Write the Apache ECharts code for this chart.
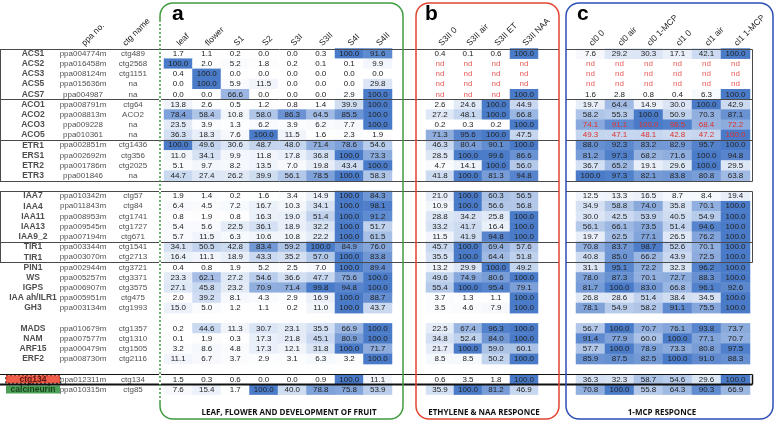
<!DOCTYPE html>
<html><head><meta charset="utf-8">
<script src="https://cdn.jsdelivr.net/npm/echarts@6/dist/echarts.min.js"></script>
<style>html,body{margin:0;padding:0;background:#fff}#c{width:778px;height:426px}</style>
</head><body><div id="c"></div>
<script>
// ---------------- DATA ----------------
const rowGenes = ['ACS1','ACS2','ACS3','ACS5','ACS7','ACO1','ACO2','ACO3','ACO5','ETR1','ERS1','ETR2','ETR3','',
  'IAA7','IAA4','IAA11','IAA13','IAA9_2','TIR1','TIR1','PIN1','WS','IGPS','IAA ah/ILR1','GH3','',
  'MADS','NAM','ARF15','ERF2','','ctg134','calcineurin'];
const rowPpa = ['ppa004774m','ppa016458m','ppa008124m','ppa015636m','ppa004987','ppa008791m','ppa008813m','ppa009228','ppa010361','ppa002851m','ppa002692m','ppa001786m','ppa001846','',
  'ppa010342m','ppa011843m','ppa008953m','ppa009545m','ppa007194m','ppa003344m','ppa003070m','ppa002944m','ppa005257m','ppa006907m','ppa005951m','ppa003134m','',
  'ppa010679m','ppa007577m','ppa000479m','ppa008730m','','ppa012311m','ppa010315m'];
const rowCtg = ['ctg489','ctg2568','ctg1151','na','na','ctg64','ACO2','na','na','ctg1436','ctg356','ctg2025','na','',
  'ctg57','ctg84','ctg1741','ctg1727','ctg671','ctg1541','ctg2713','ctg3721','ctg3371','ctg3575','ctg475','ctg1993','',
  'ctg1357','ctg1310','ctg1505','ctg2116','','ctg134','ctg85'];

const nameHeaders = ['', 'ppa no.', 'ctg name'];
const colsA = ['leaf','flower','S1','S2','S3I','S3II','S4I','S4II'];
const colsB = ['S3II 0','S3II air','S3II ET','S3II NAA'];
const colsC = ['cl0 0','cl0 air','cl0 1-MCP','cl1 0','cl1 air','cl1 1-MCP'];

const valsA = [
  [1.7,1.1,0.2,0.0,0.0,0.3,100.0,91.6],
  [100.0,2.0,5.2,1.8,0.2,0.1,0.1,9.9],
  [0.4,100.0,0.0,0.0,0.0,0.0,0.0,0.0],
  [0.0,100.0,5.9,11.5,0.0,0.0,0.0,29.8],
  [0.0,0.0,66.6,0.0,0.0,0.0,2.9,100.0],
  [13.8,2.6,0.5,1.2,0.8,1.4,39.9,100.0],
  [78.4,58.4,10.8,58.0,86.3,64.5,85.5,100.0],
  [23.5,3.9,1.3,6.2,3.9,6.2,7.7,100.0],
  [36.3,18.3,7.6,100.0,11.5,1.6,2.3,1.9],
  [100.0,49.6,30.6,48.7,48.0,71.4,78.6,54.6],
  [11.0,34.1,9.9,11.8,17.8,36.8,100.0,73.3],
  [5.1,9.7,8.2,13.5,7.0,19.8,43.4,100.0],
  [44.7,27.4,26.2,39.9,56.1,78.5,100.0,58.3],
  null,
  [1.9,1.4,0.2,1.6,3.4,14.9,100.0,84.3],
  [6.4,4.5,7.2,16.7,10.3,34.1,100.0,98.1],
  [0.8,1.9,0.8,16.3,19.0,51.4,100.0,91.2],
  [5.4,5.6,22.5,36.1,18.9,32.2,100.0,51.7],
  [5.7,11.5,6.3,10.6,10.8,22.2,100.0,61.5],
  [34.1,50.5,42.8,83.4,59.2,100.0,84.9,76.0],
  [16.4,11.1,18.9,43.3,35.2,57.0,100.0,83.8],
  [0.4,0.8,1.9,5.2,2.5,7.0,100.0,89.4],
  [23.3,62.1,27.2,54.6,36.6,47.7,75.6,100.0],
  [27.1,45.8,23.2,70.9,71.4,99.8,94.8,100.0],
  [2.0,39.2,8.1,4.3,2.9,16.9,100.0,88.7],
  [15.0,5.0,1.2,1.1,0.2,11.0,100.0,43.7],
  null,
  [0.2,44.6,11.3,30.7,23.1,35.5,66.9,100.0],
  [0.1,1.9,0.3,17.3,21.8,45.1,80.9,100.0],
  [3.2,8.6,4.8,17.3,12.1,31.8,100.0,71.7],
  [11.1,6.7,3.7,2.9,3.1,6.3,3.2,100.0],
  null,
  [1.5,0.3,0.6,0.0,0.0,0.9,100.0,11.1],
  [7.6,15.4,1.7,100.0,40.0,78.8,75.8,53.9]
];
const valsB = [
  [0.4,0.1,0.6,100.0],
  ['nd','nd','nd','nd'],
  ['nd','nd','nd','nd'],
  ['nd','nd','nd','nd'],
  ['nd','nd','nd',100.0],
  [2.6,24.6,100.0,44.9],
  [27.2,48.1,100.0,66.8],
  [0.2,0.3,0.2,100.0],
  [71.3,95.6,100.0,47.5],
  [46.3,80.4,90.1,100.0],
  [28.5,100.0,99.6,86.6],
  [4.7,14.1,100.0,56.0],
  [41.8,100.0,81.3,94.8],
  null,
  [21.0,100.0,60.3,56.5],
  [10.9,100.0,56.6,56.8],
  [28.8,34.2,25.8,100.0],
  [33.2,41.7,16.4,100.0],
  [11.5,41.9,94.8,100.0],
  [45.7,100.0,69.4,57.6],
  [35.5,100.0,64.4,51.8],
  [13.2,29.9,100.0,49.2],
  [49.6,74.9,80.6,100.0],
  [55.4,100.0,95.4,79.1],
  [3.7,1.3,1.1,100.0],
  [3.5,4.6,7.9,100.0],
  null,
  [22.5,67.4,96.3,100.0],
  [34.8,52.4,84.0,100.0],
  [21.7,100.0,59.0,60.1],
  [8.5,8.5,50.2,100.0],
  null,
  [0.6,3.5,1.8,100.0],
  [35.9,100.0,81.2,46.9]
];
const valsC = [
  [7.6,29.2,30.3,17.1,42.1,100.0],
  ['nd','nd','nd','nd','nd','nd'],
  ['nd','nd','nd','nd','nd','nd'],
  ['nd','nd','nd','nd','nd','nd'],
  [1.6,2.8,0.8,0.4,6.3,100.0],
  [19.7,64.4,14.9,30.0,100.0,42.9],
  [58.2,55.3,100.0,50.9,70.3,87.1],
  [74.1,91.1,100.0,96.5,68.4,72.2],
  [49.3,47.1,48.1,42.8,47.2,100.0],
  [88.0,92.3,83.2,82.9,95.7,100.0],
  [81.2,97.3,68.2,71.6,100.0,94.8],
  [36.7,65.2,19.1,29.6,100.0,29.5],
  [100.0,97.3,82.1,83.8,80.8,63.8],
  null,
  [12.5,13.3,16.5,8.7,8.4,19.4],
  [34.9,58.8,74.0,35.8,70.1,100.0],
  [30.0,42.5,53.9,40.5,54.9,100.0],
  [56.1,66.1,73.5,51.4,94.6,100.0],
  [19.7,62.5,77.1,26.5,76.2,100.0],
  [70.8,83.7,98.7,52.6,70.1,100.0],
  [40.8,85.0,66.2,43.9,72.5,100.0],
  [31.1,95.1,72.2,32.3,96.2,100.0],
  [78.0,87.3,70.1,72.7,88.3,100.0],
  [81.7,100.0,83.0,66.8,96.1,92.6],
  [26.8,28.6,51.4,38.4,34.5,100.0],
  [78.1,54.9,58.2,91.1,75.5,100.0],
  null,
  [56.7,100.0,70.7,76.1,93.8,73.7],
  [91.4,77.9,60.0,100.0,77.1,70.7],
  [57.7,100.0,78.9,73.3,80.8,97.5],
  [85.9,87.5,82.5,100.0,91.0,88.3],
  null,
  [36.3,32.3,58.7,54.6,29.6,100.0],
  [70.8,100.0,55.8,64.3,90.3,66.9]
];
// rows of panel c printed in red in the source
const redTextRowsC = ['ACO3','ACO5'];

const panelTitles = ['LEAF, FLOWER AND DEVELOPMENT OF FRUIT', 'ETHYLENE & NAA RESPONCE', '1-MCP RESPONCE'];
const panelLetters = ['a','b','c'];

// ---------------- LAYOUT ----------------
const FONT = '"Liberation Sans", Arial, sans-serif';
const TOP = 48.5, ROWH = 10.18, NROWS = rowGenes.length;
const H = ROWH * NROWS;
const gridDefs = [
  {left: 8, width: 150},      // names
  {left: 164, width: 228},    // a
  {left: 426, width: 112},    // b
  {left: 576, width: 174}     // c
];
const slots = rowGenes.map((_, i) => String(i));
const headerSets = [nameHeaders, colsA, colsB, colsC];

const RED = '#e0302a';
function buildHeat(vals, redRows) {
  const heat = [], nd = [];
  vals.forEach((row, r) => {
    if (!row) return;
    row.forEach((v, c) => {
      if (v === 'nd') nd.push([c, r]);
      else {
        const item = {value: [c, r, v]};
        if (redRows && redRows.includes(rowGenes[r])) item.label = {color: RED};
        heat.push(item);
      }
    });
  });
  return {heat, nd};
}
const hA = buildHeat(valsA), hB = buildHeat(valsB), hC = buildHeat(valsC, redTextRowsC);

const nameData = [];
rowGenes.forEach((g, r) => {
  if (!g) return;
  const gi = {value: [0, r], name: g, label: {fontWeight: 'bold', fontSize: 8.5}};
  if (g === 'ctg134') gi.label = {fontWeight: 'bold', fontSize: 8.5, backgroundColor: '#e8341c', color: '#3a0800', width: 54, height: 8, lineHeight: 9, align: 'center', borderColor: '#222', borderType: 'dotted', borderWidth: 1};
  if (g === 'calcineurin') gi.label = {fontWeight: 'bold', fontSize: 8.5, backgroundColor: '#1f8a30', color: '#0c2a0c', width: 54, height: 8, lineHeight: 9, align: 'center'};
  nameData.push(gi);
  nameData.push({value: [1, r], name: rowPpa[r]});
  nameData.push({value: [2, r], name: rowCtg[r]});
});

const xAxes = headerSets.map((cols, i) => ({
  gridIndex: i, type: 'category', data: cols, position: 'top',
  axisLine: {show: false}, axisTick: {show: false}, splitLine: {show: false},
  axisLabel: {show: false}
}));
const yAxes = gridDefs.map((g, i) => ({
  gridIndex: i, type: 'category', data: slots, inverse: true, show: false
}));

const labelBase = {show: true, fontSize: 8, color: '#222', fontFamily: FONT,
  formatter: p => (typeof p.value[2] === 'number' ? p.value[2].toFixed(1) : '')};
const heatSeries = [hA, hB, hC].map((h, i) => ({
  type: 'heatmap', xAxisIndex: i + 1, yAxisIndex: i + 1, data: h.heat,
  label: labelBase, itemStyle: {borderWidth: 0}, emphasis: {disabled: true}, z: 2
}));
const ndSeries = [hA, hB, hC].map((h, i) => ({
  type: 'scatter', xAxisIndex: i + 1, yAxisIndex: i + 1, data: h.nd, symbolSize: 1,
  itemStyle: {color: 'rgba(0,0,0,0)'}, silent: true, z: 3,
  label: {show: true, position: 'inside', formatter: 'nd', fontSize: 8, color: RED, fontFamily: FONT}
}));
const nameSeries = {
  type: 'scatter', xAxisIndex: 0, yAxisIndex: 0, data: nameData, symbolSize: 1,
  itemStyle: {color: 'rgba(0,0,0,0)'}, silent: true, z: 5,
  label: {show: true, position: 'inside', formatter: p => p.name, fontSize: 8, color: '#222', fontFamily: FONT}
};

// ---------------- DECORATION (headers, table rules, panel frames) ----------------
const yk = k => Math.round(TOP + k * ROWH) + 0.5;
const LINE = '#4a4a4a';
const graphics = [];
// rotated column headers, anchored at each category's centre
headerSets.forEach((cols, gi) => {
  const g = gridDefs[gi], cw = g.width / cols.length;
  cols.forEach((t, ci) => {
    if (!t) return;
    const cx = g.left + (ci + 0.5) * cw + (t === 'ctg name' ? -9 : 0);
    graphics.push({type: 'text', x: cx, y: TOP - 4, rotation: Math.PI / 4, z: 14,
      style: {text: t, font: '8.5px ' + FONT, fill: '#222', textAlign: 'left', textVerticalAlign: 'middle', verticalAlign: 'middle'}});
  });
});
function hline(x1, x2, y, w, c) {
  graphics.push({type: 'line', shape: {x1, y1: y, x2, y2: y}, style: {stroke: c || LINE, lineWidth: w || 1}, z: 10});
}
function vline(x, y1, y2, w, c) {
  graphics.push({type: 'line', shape: {x1: x, y1, x2: x, y2}, style: {stroke: c || LINE, lineWidth: w || 1}, z: 10});
}
const cEnd = gridDefs[3].left + gridDefs[3].width + 2.5;
[0, 5, 9, 13, 14, 19, 21].forEach(k => { hline(0, 559, yk(k)); hline(566, cEnd, yk(k)); });
vline(0.5, yk(0), yk(13)); vline(0.5, yk(14), yk(21));
vline(cEnd, yk(0), yk(13)); vline(cEnd, yk(14), yk(21));
hline(0, cEnd, yk(32), 1, '#111');
hline(0, cEnd, yk(33), 2, '#111');
vline(cEnd, yk(32), yk(33), 1.5, '#111');

const frames = [
  {x: 160, w: 243, color: '#3f9c3f'},
  {x: 416, w: 143, color: '#e2452f'},
  {x: 566, w: 207, color: '#2e4fb5'}
];
frames.forEach(f => {
  graphics.push({type: 'rect', shape: {x: f.x, y: 3, width: f.w, height: 416, r: 13},
    style: {fill: 'none', stroke: f.color, lineWidth: 1.5}, z: 12});
});
// dashed left side of the green frame
graphics.push({type: 'line', shape: {x1: 160, y1: 22, x2: 160, y2: 400},
  style: {stroke: '#fff', lineWidth: 2, lineDash: [2, 2]}, z: 13});

const letterX = [172, 425, 577];
panelLetters.forEach((t, i) => graphics.push({type: 'text', x: letterX[i], y: 4, z: 14,
  style: {text: t, font: 'bold 21px ' + FONT, fill: '#000'}}));
const titleX = [289, 484, 662];
panelTitles.forEach((t, i) => graphics.push({type: 'text', x: titleX[i], y: 413, z: 14,
  style: {text: t, font: 'bold 8px "Open Sans", ' + FONT, fill: '#111', textAlign: 'center', textVerticalAlign: 'middle', verticalAlign: 'middle'}}));

const chart = echarts.init(document.getElementById('c'), null, {renderer: 'canvas'});
chart.setOption({
  animation: false,
  backgroundColor: '#fff',
  textStyle: {fontFamily: FONT},
  grid: gridDefs.map(g => ({left: g.left, width: g.width, top: TOP, height: H, containLabel: false})),
  xAxis: xAxes,
  yAxis: yAxes,
  visualMap: {type: 'continuous', min: 0, max: 100, show: false, seriesIndex: [0, 1, 2],
    inRange: {color: ['#ffffff', '#c3d4ee', '#4a7bc9']}},
  series: [...heatSeries, ...ndSeries, nameSeries],
  graphic: graphics
});
</script></body></html>
